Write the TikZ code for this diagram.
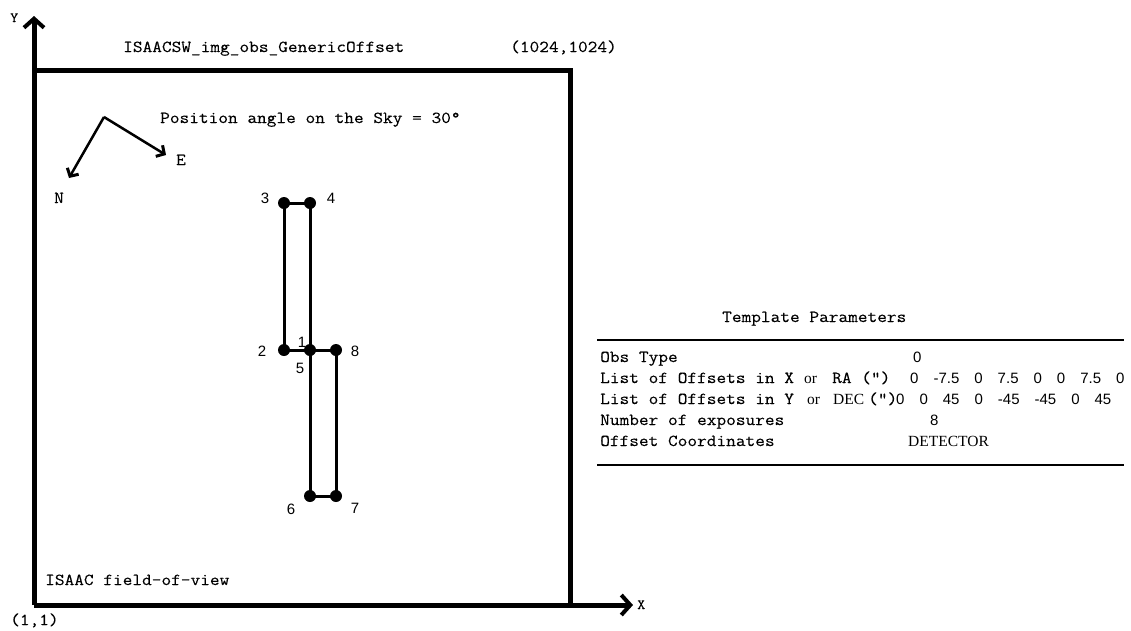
\documentclass[tikz,border=0pt]{standalone}
\usepackage{fontspec}
\setmainfont{Liberation Serif}
\setmonofont[FakeStretch=1.12,FakeBold=0.2]{Latin Modern Mono}
\setsansfont{Liberation Sans}
\usetikzlibrary{arrows.meta}
\newcommand\valsp{\spaceskip 15pt\relax}
\tikzset{
  mono/.style={font=\fontsize{16.8}{18}\selectfont\ttfamily, inner sep=0pt, anchor=base west},
  smallmono/.style={font=\fontsize{14}{15}\selectfont\ttfamily, inner sep=0pt, anchor=base west},
  num/.style={font=\fontsize{15}{17}\selectfont\sffamily, inner sep=0pt},
  vals/.style={font=\fontsize{15}{17}\selectfont\sffamily, inner sep=0pt, anchor=base west},
  serifw/.style={font=\fontsize{15.5}{17}\selectfont\rmfamily, inner sep=0pt, anchor=base west},
  axis/.style={line width=5pt, -{Straight Barb[length=9pt,width=20pt,line width=4pt]}},
  frame/.style={line width=5pt, line cap=rect},
  compass/.style={line width=2.5pt, -{Straight Barb[length=6pt,width=13pt,line width=3pt]}},
  dot/.style={circle, fill=black, inner sep=0pt, minimum size=12pt},
  link/.style={line width=3pt},
  rule/.style={line width=1.3pt},
}
\begin{document}
\begin{tikzpicture}[x=1pt,y=-1pt]
\useasboundingbox (0,0) rectangle (1131,630);
\fill[white] (0,0) rectangle (1131,630);
% axes and frame
\coordinate (O) at (34,605);
\coordinate (Ytip) at (34,16);
\coordinate (Xtip) at (633,605);
\coordinate (TL) at (34,70);
\coordinate (TR) at (570,70);
\coordinate (BR) at (570,605);
\draw[frame] (TL) -- (TR) -- (BR);
\draw[axis] (O) -- (Ytip);
\draw[axis] (O) -- (Xtip);
\node[smallmono] (ylab) at (10,22) {Y};
\node[smallmono] (xlab) at (637,609) {X};
\node[mono] (orig) at (10,625) {(1,1)};
\node[mono] (corner) at (510,52) {(1024,1024)};
\node[mono] (title) at (123,52) {ISAACSW\_img\_obs\_GenericOffset};
\node[mono] (fov) at (45,585) {ISAAC field-of-view};
% compass
\coordinate (V) at (104,117);
\coordinate (Et) at (166,155);
\coordinate (Nt) at (69,178);
\draw[compass] (V) -- (Et);
\draw[compass] (V) -- (Nt);
\node[mono] (elab) at (176,165) {E};
\node[mono] (nlab) at (54,203) {N};
\node[mono] (pa) at (160,123) {Position angle on the Sky = 30°};
% offset pattern
\node[dot] (p3) at (284,203) {};
\node[dot] (p4) at (310,203) {};
\node[dot] (p2) at (284,350) {};
\node[dot] (p5) at (310,350) {};
\node[dot] (p8) at (336,350) {};
\node[dot] (p6) at (310,496) {};
\node[dot] (p7) at (336,496) {};
\draw[link] (p3.center) -- (p4.center) -- (p5.center) -- (p6.center) -- (p7.center) -- (p8.center) -- (p5.center) -- (p2.center) -- (p3.center);
\node[num] (l3) at (265,198) {3};
\node[num] (l4) at (331,198) {4};
\node[num] (l2) at (262,351) {2};
\node[num] (l1) at (302,342) {1};
\node[num] (l5) at (300,368) {5};
\node[num] (l8) at (355,351) {8};
\node[num] (l6) at (291,509) {6};
\node[num] (l7) at (355,508) {7};
% table
\node[mono] (th) at (722,322) {Template Parameters};
\coordinate (r1a) at (597,340);
\coordinate (r1b) at (1124,340);
\coordinate (r2a) at (597,465);
\coordinate (r2b) at (1124,465);
\draw[rule] (r1a) -- (r1b);
\draw[rule] (r2a) -- (r2b);
\node[mono] (t1) at (600,362) {Obs Type};
\node[mono] (t2) at (600,383) {List of Offsets in X};
\node[serifw] (t2or) at (804,383) {or};
\node[mono] (t2ra) at (832,383) {RA (")};
\node[vals] (v2) at (910,383) {\valsp 0 -7.5 0 7.5 0 0 7.5 0};
\node[mono] (t3) at (600,404) {List of Offsets in Y};
\node[serifw] (t3or) at (807,404) {or};
\node[serifw] (t3dec) at (833,404) {DEC};
\node[mono] (t3q) at (868,404) {(")};
\node[vals] (v3) at (896,404) {\valsp 0 0 45 0 -45 -45 0 45};
\node[mono] (t4) at (600,425) {Number of exposures};
\node[mono] (t5) at (600,446) {Offset Coordinates};
\node[vals] (v1) at (913,362) {0};
\node[vals] (v4) at (930,425) {8};
\node[serifw] (v5) at (908,446) {DETECTOR};
\end{tikzpicture}
\end{document}
